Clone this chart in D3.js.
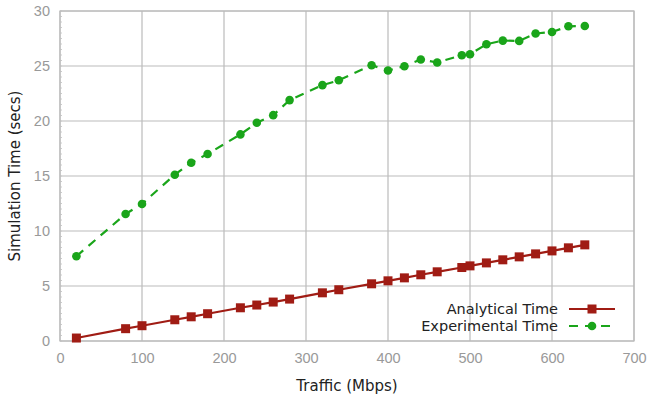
<!DOCTYPE html>
<html>
<head>
<meta charset="utf-8">
<script src="https://cdn.jsdelivr.net/npm/d3@7"></script>
<style>
  body { margin: 0; background: #fff; }
  svg { font-family: 'DejaVu Sans', sans-serif; }
  .tick text { fill: #999; font-size: 14.5px; }
</style>
</head>
<body>
<svg width="649" height="396"></svg>
<script>
var traffic = [20, 80, 100, 140, 160, 180, 220, 240, 260, 280, 320, 340, 380, 400, 420, 440, 460, 490, 500, 520, 540, 560, 580, 600, 620, 640]
var analytical = [0.27, 1.12, 1.39, 1.93, 2.2, 2.48, 3.02, 3.27, 3.54, 3.81, 4.38, 4.66, 5.2, 5.47, 5.74, 6.02, 6.29, 6.68, 6.83, 7.1, 7.38, 7.65, 7.92, 8.19, 8.47, 8.74]
var experimental = [7.7, 11.55, 12.46, 15.12, 16.2, 17.0, 18.78, 19.84, 20.53, 21.9, 23.26, 23.7, 25.07, 24.59, 24.98, 25.59, 25.32, 25.98, 26.07, 26.98, 27.31, 27.28, 27.95, 28.09, 28.61, 28.64]
var xTicks = [0, 100, 200, 300, 400, 500, 600, 700]
var yTicks = [0, 5, 10, 15, 20, 25, 30]

var margin = {top: 11, right: 15, bottom: 55, left: 60}
var width = 649 - margin.left - margin.right
var height = 396 - margin.top - margin.bottom

var x = d3.scaleLinear().domain([0, 700]).range([0, width])
var y = d3.scaleLinear().domain([0, 30]).range([height, 0])

var svg = d3.select('svg')
var g = svg.append('g')
  .attr('transform', 'translate(' + margin.left + ',' + margin.top + ')')

// grid
g.append('g').selectAll('line').data(xTicks).enter().append('line')
  .attr('x1', function (d) { return x(d) }).attr('x2', function (d) { return x(d) })
  .attr('y1', 0).attr('y2', height)
  .attr('stroke', '#bbb').attr('stroke-width', 1.2)
g.append('g').selectAll('line').data(yTicks).enter().append('line')
  .attr('x1', 0).attr('x2', width)
  .attr('y1', function (d) { return y(d) }).attr('y2', function (d) { return y(d) })
  .attr('stroke', '#bbb').attr('stroke-width', 1.2)

// minor ticks on left
g.append('g').selectAll('line').data(d3.range(0, 30.01, 0.5)).enter().append('line')
  .attr('x1', 0).attr('x2', 2)
  .attr('y1', function (d) { return y(d) }).attr('y2', function (d) { return y(d) })
  .attr('stroke', '#ccc').attr('stroke-width', 1)

g.append('rect').attr('width', width).attr('height', height)
  .attr('fill', 'none').attr('stroke', '#bbb').attr('stroke-width', 1.2)

var xAxis = g.append('g').attr('transform', 'translate(0,' + height + ')')
  .call(d3.axisBottom(x).tickValues(xTicks).tickSize(0).tickPadding(12))
xAxis.select('.domain').remove()
var yAxis = g.append('g')
  .call(d3.axisLeft(y).tickValues(yTicks).tickSize(0).tickPadding(10))
yAxis.select('.domain').remove()

svg.append('text').attr('x', margin.left + width / 2).attr('y', 391)
  .attr('text-anchor', 'middle').attr('font-size', 15).attr('fill', '#222')
  .text('Traffic (Mbps)')
svg.append('text').attr('transform', 'translate(20,' + (margin.top + height / 2) + ') rotate(-90)')
  .attr('text-anchor', 'middle').attr('font-size', 15).attr('fill', '#222')
  .text('Simulation Time (secs)')

var red = '#a01c14'
var green = '#1aa51a'

var line = d3.line()
  .x(function (d) { return x(d[0]) })
  .y(function (d) { return y(d[1]) })

var redData = d3.zip(traffic, analytical)
var greenData = d3.zip(traffic, experimental)

g.append('path').datum(redData).attr('d', line)
  .attr('fill', 'none').attr('stroke', red).attr('stroke-width', 2.2)
g.append('path').datum(greenData).attr('d', line)
  .attr('fill', 'none').attr('stroke', green).attr('stroke-width', 2.2)
  .attr('stroke-dasharray', '9,7')

g.selectAll('.sq').data(redData).enter().append('rect')
  .attr('x', function (d) { return x(d[0]) - 4.5 })
  .attr('y', function (d) { return y(d[1]) - 4.5 })
  .attr('width', 9).attr('height', 9).attr('fill', red)
g.selectAll('.dot').data(greenData).enter().append('circle')
  .attr('cx', function (d) { return x(d[0]) })
  .attr('cy', function (d) { return y(d[1]) })
  .attr('r', 4.3).attr('fill', green)

// legend
var legend = svg.append('g')
var items = [
  {label: 'Analytical Time', color: red, dash: null, y: 309},
  {label: 'Experimental Time', color: green, dash: '9,7', y: 326}
]
items.forEach(function (it) {
  legend.append('text').attr('x', 558).attr('y', it.y + 5)
    .attr('text-anchor', 'end').attr('font-size', 14.5).attr('fill', '#222')
    .text(it.label)
  legend.append('line').attr('x1', 569).attr('x2', 615)
    .attr('y1', it.y).attr('y2', it.y)
    .attr('stroke', it.color).attr('stroke-width', 2.2)
    .attr('stroke-dasharray', it.dash)
  if (it.dash) {
    legend.append('circle').attr('cx', 592).attr('cy', it.y).attr('r', 4.3).attr('fill', it.color)
  } else {
    legend.append('rect').attr('x', 587.5).attr('y', it.y - 4.5).attr('width', 9).attr('height', 9).attr('fill', it.color)
  }
})
</script>
</body>
</html>
